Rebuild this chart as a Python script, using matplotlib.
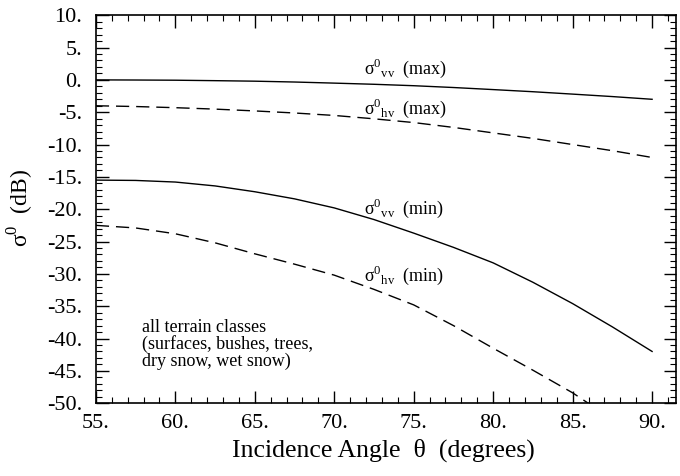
import numpy as np
import matplotlib
matplotlib.use("Agg")
import matplotlib.pyplot as plt
from matplotlib.ticker import MultipleLocator, FormatStrFormatter

# incidence angle (degrees) and sigma0 curves (dB)
angle = [55, 57.5, 60, 62.5, 65, 67.5, 70, 72.5, 75, 77.5, 80, 82.5, 85, 87.5, 90]
vv_max = [0.0, -0.02, -0.05, -0.12, -0.2, -0.33, -0.5, -0.68, -0.9, -1.18, -1.5, -1.83, -2.2, -2.58, -3.0]
hv_max = [-4.0, -4.12, -4.3, -4.52, -4.8, -5.12, -5.5, -6.02, -6.6, -7.35, -8.2, -9.05, -10.0, -10.95, -12.0]
vv_min = [-15.5, -15.55, -15.8, -16.4, -17.3, -18.4, -19.8, -21.6, -23.7, -25.9, -28.3, -31.3, -34.6, -38.2, -42.0]
hv_min = [-22.5, -22.9, -23.8, -25.2, -26.9, -28.5, -30.2, -32.4, -34.8, -38.0, -41.5, -44.9, -48.4, -52.5, -57.0]

plt.rcParams['font.family'] = ['Liberation Serif', 'DejaVu Serif']
plt.rcParams['mathtext.fontset'] = 'custom'
plt.rcParams['mathtext.rm'] = 'Liberation Serif'

fig = plt.figure(figsize=(6.8, 4.76), dpi=100)
ax = fig.add_axes([0.141, 0.153, 0.853, 0.815])

ax.plot(angle, vv_max, color='black', lw=1.0)
ax.plot(angle, hv_max, color='black', lw=1.0, dashes=(9.5, 5))
ax.plot(angle, vv_min, color='black', lw=1.0)
ax.plot(angle, hv_min, color='black', lw=1.0, dashes=(9.5, 5))

ax.set_xlim(55, 91.5)
ax.set_ylim(-50, 10)
ax.xaxis.set_major_locator(MultipleLocator(5))
ax.xaxis.set_minor_locator(MultipleLocator(1))
ax.yaxis.set_major_locator(MultipleLocator(5))
ax.yaxis.set_minor_locator(MultipleLocator(1))
ax.xaxis.set_major_formatter(FormatStrFormatter('%d.'))
ax.yaxis.set_major_formatter(FormatStrFormatter('%d.'))
ax.tick_params(which='both', direction='in', top=True, right=True, labelsize=16)
ax.tick_params(which='major', length=9, width=1.0, pad=8)
ax.tick_params(axis='y', which='major', pad=10)
ax.tick_params(which='minor', length=4, width=0.8)
for s in ax.spines.values():
    s.set_linewidth(1.2)

ax.set_xlabel('Incidence Angle  θ  (degrees)', fontsize=18.5)
ax.xaxis.set_label_coords(0.496, -0.09)
ax.set_ylabel(r'σ$^{\rm 0}$  (dB)', fontsize=17)
ax.yaxis.set_label_coords(-0.103, 0.503)

lbl = dict(fontsize=13, ha='left', va='center')
ax.text(71.9, 1.8, r'σ$^{\rm 0}{}_{\rm vv}$  (max)', **lbl)
ax.text(71.9, -4.4, r'σ$^{\rm 0}{}_{\rm hv}$  (max)', **lbl)
ax.text(71.9, -19.8, r'σ$^{\rm 0}{}_{\rm vv}$  (min)', **lbl)
ax.text(71.9, -30.2, r'σ$^{\rm 0}{}_{\rm hv}$  (min)', **lbl)

ax.text(57.9, -40.9, 'all terrain classes\n(surfaces, bushes, trees,\ndry snow, wet snow)',
        fontsize=13, ha='left', va='center', linespacing=0.95)

fig.savefig('out.png', dpi=100)
